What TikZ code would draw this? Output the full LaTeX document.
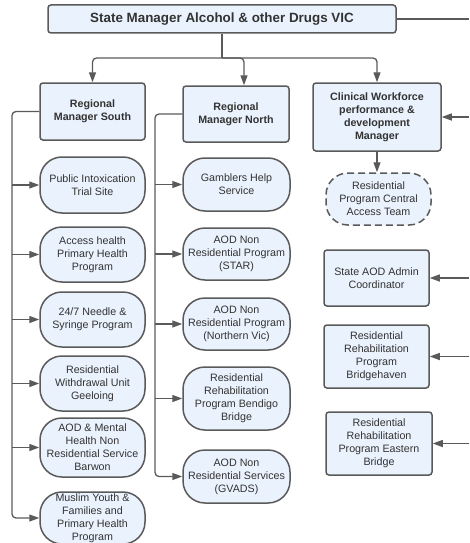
\documentclass[tikz,border=0pt]{standalone}
\usepackage{fontspec}
\setmainfont{Liberation Sans}
\usetikzlibrary{arrows.meta}
\definecolor{boxfill}{HTML}{EAF2FD}
\definecolor{boxline}{HTML}{5A5A5A}
\definecolor{txt}{HTML}{333333}
\tikzset{
  base/.style={draw=boxline, fill=boxfill, line width=1.5pt, text=txt, align=center, inner sep=1pt,
    font=\fontsize{10.7}{13}\selectfont},
  sqbox/.style={base, rounded corners=3pt},
  pill/.style={base, rounded corners=22pt},
  mgr/.style={sqbox, font=\fontsize{10.7}{13}\selectfont\bfseries},
  conn/.style={draw=boxline, line width=1.3pt, rounded corners=4pt},
  arr/.style={conn, -{Triangle[length=10pt,width=7pt]}},
}
\begin{document}
\begin{tikzpicture}[x=1pt,y=-1pt]
\useasboundingbox (0,0) rectangle (469,543);
% top
\node[sqbox, minimum width=348pt, minimum height=28pt, font=\fontsize{13.4}{16}\selectfont\bfseries] (top) at (222,19) {State Manager Alcohol \& other Drugs VIC};
% managers
\node[mgr, minimum width=105pt, minimum height=57pt] (rms) at (92.5,111.5) {Regional\\Manager South};
\node[mgr, minimum width=106pt, minimum height=56pt] (rmn) at (236,114) {Regional\\Manager North};
\node[mgr, minimum width=128pt, minimum height=68pt] (cw) at (377,117) {Clinical Workforce\\performance \&\\development\\Manager};
% south children
\node[pill, minimum width=105pt, minimum height=56pt] (pi) at (92.5,185) {Public Intoxication\\Trial Site};
\node[pill, minimum width=105pt, minimum height=55pt] (ah) at (92.5,254.5) {Access health\\Primary Health\\Program};
\node[pill, minimum width=105pt, minimum height=55pt] (ns) at (92.5,319.5) {24/7 Needle \&\\Syringe Program};
\node[pill, minimum width=105pt, minimum height=55pt] (rw) at (92.5,383.5) {Residential\\Withdrawal Unit\\Geeloing};
\node[pill, minimum width=105pt, minimum height=59pt] (am) at (92.5,447.5) {AOD \& Mental\\Health Non\\Residential Service\\Barwon};
\node[pill, minimum width=105pt, minimum height=52pt] (my) at (92.5,518) {Muslim Youth \&\\Families and\\Primary Health\\Program};
% north children
\node[pill, minimum width=107pt, minimum height=53pt] (gh) at (236.5,184.5) {Gamblers Help\\Service};
\node[pill, minimum width=107pt, minimum height=52pt] (st) at (236.5,254) {AOD Non\\Residential Program\\(STAR)};
\node[pill, minimum width=107pt, minimum height=52pt] (nv) at (236.5,324) {AOD Non\\Residential Program\\(Northern Vic)};
\node[pill, minimum width=107pt, minimum height=63pt] (bb) at (236.5,398.5) {Residential\\Rehabilitation\\Program Bendigo\\Bridge};
\node[pill, minimum width=107pt, minimum height=53pt] (gv) at (236.5,476.5) {AOD Non\\Residential Services\\(GVADS)};
% right column
\node[pill, dashed, dash pattern=on 7pt off 4pt, minimum width=105pt, minimum height=52pt] (cat) at (378.5,199) {Residential\\Program Central\\Access Team};
\node[sqbox, minimum width=105pt, minimum height=56pt] (adm) at (376.5,278) {State AOD Admin\\Coordinator};
\node[sqbox, minimum width=105pt, minimum height=63pt] (bh) at (376.5,356.5) {Residential\\Rehabilitation\\Program\\Bridgehaven};
\node[sqbox, minimum width=106pt, minimum height=63pt] (eb) at (379,443.5) {Residential\\Rehabilitation\\Program Eastern\\Bridge};
% top connectors
\coordinate (j) at (222,58);
\draw[conn] (top.south) -- (j);
\draw[arr] (j) -| (rms.north);
\draw[arr] (j) -| ([xshift=8pt]rmn.north);
\draw[arr] (j) -| (cw.north);
\draw[arr] (cw.south) -- (cw.south |- cat.north);
% right spine
\coordinate (re) at (469,19);
\draw[conn] (top.east) -- (re);
\foreach \n in {cw,adm,bh,eb} \draw[arr] (\n.east -| re) -- (\n.east);
% south spine
\coordinate (sb) at (12,518);
\draw[arr] (rms.west) -| (sb) -- (my.west);
\foreach \n in {pi,ah,ns,rw,am} \draw[arr] (\n.west -| sb) -- (\n.west);
% north spine
\coordinate (nb) at (155,476.5);
\draw[arr] (rmn.west) -| (nb) -- (gv.west);
\foreach \n in {gh,st,nv,bb} \draw[arr] (\n.west -| nb) -- (\n.west);
\end{tikzpicture}
\end{document}
